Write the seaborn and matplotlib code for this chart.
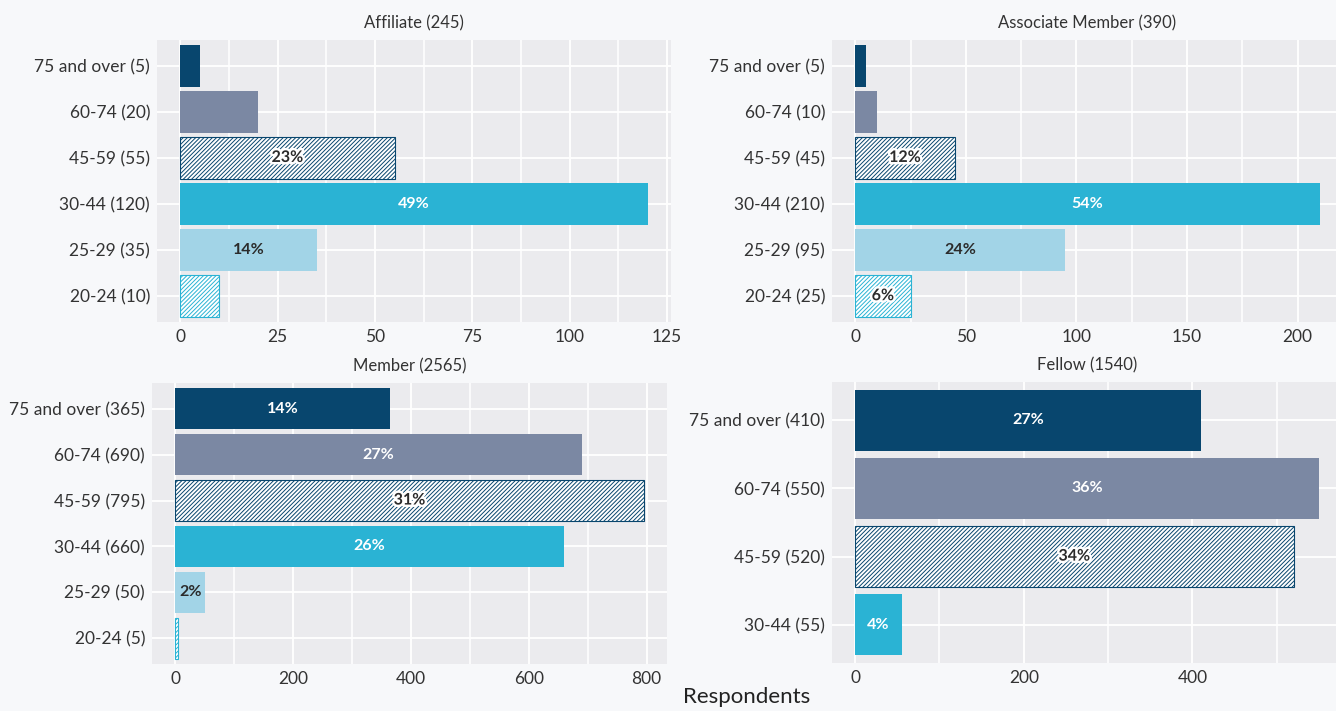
import matplotlib
matplotlib.use("Agg")
import matplotlib.pyplot as plt
import matplotlib.patheffects as pe
from matplotlib.ticker import AutoMinorLocator, FixedLocator
import seaborn as sns
import pandas as pd

# ---------------- data ----------------
panel_titles = ["Affiliate (245)", "Associate Member (390)", "Member (2565)", "Fellow (1540)"]
age_groups = ["75 and over", "60-74", "45-59", "30-44", "25-29", "20-24"]

affiliate_counts = [5, 20, 55, 120, 35, 10]
associate_counts = [5, 10, 45, 210, 95, 25]
member_counts = [365, 690, 795, 660, 50, 5]
fellow_counts = [410, 550, 520, 55]

affiliate_pct = ["", "", "23%", "49%", "14%", ""]
associate_pct = ["", "", "12%", "54%", "24%", "6%"]
member_pct = ["14%", "27%", "31%", "26%", "2%", ""]
fellow_pct = ["27%", "36%", "34%", "4%"]

affiliate_ticks = [0, 25, 50, 75, 100, 125]
associate_ticks = [0, 50, 100, 150, 200]
member_ticks = [0, 200, 400, 600, 800]
fellow_ticks = [0, 200, 400]

# ---------------- style ----------------
group_colors = {"75 and over": "#08466e", "60-74": "#7b88a3", "45-59": "#08466e",
                "30-44": "#2ab3d4", "25-29": "#a2d4e7", "20-24": "#2ab3d4"}
hatched = {"45-59", "20-24"}
label_style = {"75 and over": "white", "60-74": "white", "45-59": "stroke",
               "30-44": "white", "25-29": "dark", "20-24": "stroke"}

sns.set_theme(style="darkgrid")
FONT = ["Lato", "DejaVu Sans"]
plt.rcParams["font.family"] = FONT
plt.rcParams["hatch.linewidth"] = 0.7

W, H = 1336, 711
fig = plt.figure(figsize=(W / 100, H / 100), dpi=100)
fig.patch.set_facecolor("#f7f8fa")

# axes boxes in pixels: left, top, right, bottom
boxes = [(157, 40, 671, 322), (832, 40, 1343, 322),
         (152, 383, 667, 664), (832, 382, 1342, 663)]

counts_all = [affiliate_counts, associate_counts, member_counts, fellow_counts]
pct_all = [affiliate_pct, associate_pct, member_pct, fellow_pct]
ticks_all = [affiliate_ticks, associate_ticks, member_ticks, fellow_ticks]

for title, (l, t, r, b), counts, pcts, xt in zip(panel_titles, boxes, counts_all, pct_all, ticks_all):
    ax = fig.add_axes([l / W, (H - b) / H, (r - l) / W, (b - t) / H])
    ax.set_facecolor("#ebebee")
    groups = age_groups[:len(counts)]
    ylabels = [f"{g} ({c})" for g, c in zip(groups, counts)]
    df = pd.DataFrame({"label": ylabels, "count": counts, "group": groups})
    pal = {lab: group_colors[g] for lab, g in zip(ylabels, groups)}
    sns.barplot(data=df, x="count", y="label", hue="label", hue_order=ylabels,
                order=ylabels, palette=pal, orient="h", width=0.9, saturation=1,
                legend=False, ax=ax, zorder=2)
    for i, (g, cont) in enumerate(zip(groups, ax.containers)):
        for p in cont:
            if g in hatched:
                p.set_facecolor("white")
                p.set_edgecolor(group_colors[g])
                p.set_hatch("////////")
                p.set_linewidth(0.8)
            else:
                p.set_linewidth(0)
            txt = pcts[i]
            if txt:
                cx = p.get_x() + p.get_width() / 2
                cy = p.get_y() + p.get_height() / 2
                st = label_style[g]
                kw = dict(ha="center", va="center", fontsize=11.5, fontweight="bold",
                          family=FONT, zorder=5)
                if st == "white":
                    ax.text(cx, cy, txt, color="white", **kw)
                elif st == "dark":
                    ax.text(cx, cy, txt, color="#2b2b2b", **kw)
                else:
                    ax.text(cx, cy, txt, color="#2b2b2b",
                            path_effects=[pe.withStroke(linewidth=3.5, foreground="white")], **kw)
    n = len(counts)
    vmax = max(counts)
    ax.set_xlim(-0.05 * vmax, 1.05 * vmax)
    ax.set_ylim(n - 0.5 + 0.06, -0.5 - 0.06)
    ax.xaxis.set_major_locator(FixedLocator(xt))
    ax.xaxis.set_minor_locator(AutoMinorLocator(2))
    ax.grid(which="major", axis="both", color="white", linewidth=1.3, zorder=0)
    ax.grid(which="minor", axis="x", color="white", linewidth=1.1, zorder=0)
    ax.set_axisbelow(True)
    ax.tick_params(axis="both", which="both", length=0, labelsize=12.5,
                   colors="#333333", pad=5)
    ax.set_xlabel("")
    ax.set_ylabel("")
    ax.set_title(title, fontsize=12, color="#333333", pad=8)
    for s in ax.spines.values():
        s.set_visible(False)

fig.text(747 / W, 1 - 697 / H, "Respondents", ha="center", va="center",
         fontsize=16, color="#222222")

fig.savefig("out.png", dpi=100, facecolor=fig.get_facecolor())
